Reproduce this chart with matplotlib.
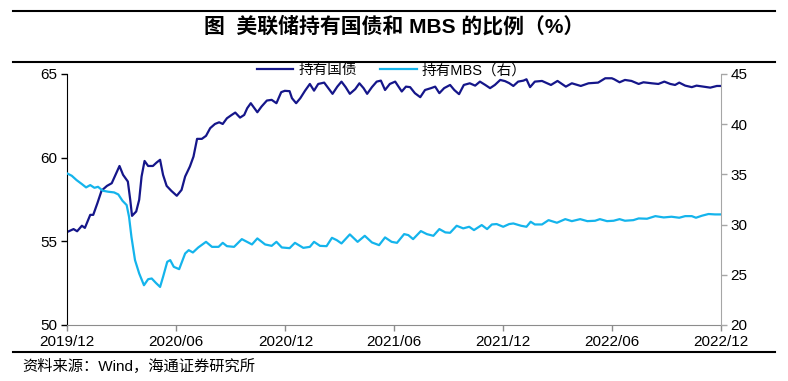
import matplotlib
matplotlib.use("Agg")
import matplotlib.pyplot as plt
import matplotlib.dates as mdates
from matplotlib.lines import Line2D
import pandas as pd

plt.rcParams['font.family'] = ['Liberation Sans', 'Noto Sans CJK SC', 'DejaVu Sans']

base_date = pd.Timestamp('2019-12-01')

# 持有国债 (left axis), days after 2019-12-01
tsy_days = [0, 11, 17, 25, 30, 39, 44, 51, 58, 67, 75, 80, 88, 94, 102, 106, 109, 116, 121, 125,
            130, 136, 144, 150, 156, 161, 167, 175, 184, 192, 198, 206, 212, 218, 226, 233, 240, 248,
            255, 261, 268, 276, 282, 290, 297, 302, 308, 312, 319, 326, 335, 343, 351, 359, 365, 373,
            377, 384, 391, 399, 407, 414, 421, 431, 438, 445, 453, 460, 467, 474, 483, 490, 497, 503,
            511, 519, 526, 533, 541, 550, 561, 568, 575, 583, 592, 600, 610, 617, 624, 632, 642, 649,
            657, 665, 675, 684, 692, 701, 709, 717, 726, 734, 741, 748, 756, 765, 770, 776, 784, 796,
            811, 822, 836, 846, 861, 874, 890, 902, 913, 917, 926, 935, 946, 958, 966, 980, 991, 1001,
            1011, 1019, 1026, 1036, 1047, 1055, 1066, 1078, 1089, 1096]
tsy_vals = [55.55, 55.73, 55.60, 55.93, 55.80, 56.58, 56.58, 57.28, 58.03, 58.31, 58.47, 58.87, 59.50,
            58.97, 58.57, 57.48, 56.52, 56.78, 57.48, 58.87, 59.80, 59.50, 59.50, 59.70, 59.87, 58.97,
            58.31, 58.01, 57.72, 58.07, 58.87, 59.47, 60.06, 61.12, 61.12, 61.30, 61.76, 62.01, 62.11,
            62.01, 62.35, 62.55, 62.69, 62.39, 62.55, 62.95, 63.25, 63.05, 62.71, 63.05, 63.41, 63.45,
            63.25, 63.91, 63.99, 63.97, 63.55, 63.25, 63.55, 64.00, 64.40, 64.00, 64.40, 64.48, 64.15,
            63.81, 64.24, 64.54, 64.21, 63.81, 64.09, 64.44, 64.15, 63.81, 64.21, 64.54, 64.60, 64.04,
            64.40, 64.54, 63.95, 64.24, 64.21, 63.85, 63.61, 64.04, 64.15, 64.24, 63.85, 64.15, 64.34,
            64.04, 63.79, 64.34, 64.44, 64.30, 64.54, 64.34, 64.15, 64.34, 64.64, 64.57, 64.45, 64.28,
            64.54, 64.60, 64.68, 64.21, 64.54, 64.58, 64.34, 64.58, 64.24, 64.44, 64.28, 64.44, 64.48,
            64.74, 64.74, 64.68, 64.50, 64.64, 64.58, 64.40, 64.50, 64.44, 64.40, 64.54, 64.40, 64.34,
            64.48, 64.30, 64.21, 64.30, 64.24, 64.18, 64.28, 64.28]

# 持有MBS (right axis)
mbs_days = [0, 8, 16, 25, 32, 39, 46, 52, 60, 69, 79, 86, 93, 100, 104, 108, 114, 121, 129, 136,
            142, 149, 156, 161, 168, 173, 179, 188, 198, 204, 211, 220, 233, 243, 254, 261, 268, 280,
            293, 310, 319, 332, 343, 351, 360, 373, 382, 396, 407, 414, 424, 435, 444, 452, 460, 474,
            487, 499, 511, 523, 533, 544, 553, 565, 572, 580, 593, 603, 614, 624, 634, 642, 653, 664,
            674, 682, 695, 704, 712, 720, 731, 741, 748, 761, 770, 777, 784, 796, 807, 821, 835, 846,
            860, 872, 885, 893, 905, 916, 926, 935, 949, 958, 972, 986, 1000, 1013, 1026, 1036, 1047,
            1054, 1064, 1075, 1086, 1096]
mbs_vals = [35.10, 34.86, 34.43, 34.03, 33.70, 33.93, 33.66, 33.76, 33.37, 33.27, 33.20, 33.00, 32.37,
            31.94, 30.77, 28.78, 26.46, 25.13, 23.96, 24.56, 24.63, 24.19, 23.79, 24.79, 26.29, 26.46,
            25.79, 25.56, 27.12, 27.45, 27.22, 27.72, 28.28, 27.78, 27.78, 28.18, 27.85, 27.78, 28.55,
            28.02, 28.62, 28.02, 27.88, 28.28, 27.72, 27.65, 28.18, 27.68, 27.78, 28.28, 27.88, 27.85,
            28.68, 28.45, 28.12, 29.02, 28.28, 28.88, 28.22, 27.95, 28.72, 28.28, 28.18, 29.05, 28.95,
            28.55, 29.35, 29.05, 28.88, 29.55, 29.22, 29.18, 29.88, 29.62, 29.78, 29.45, 29.95, 29.55,
            30.01, 30.05, 29.78, 30.05, 30.11, 29.88, 29.78, 30.28, 30.01, 30.01, 30.44, 30.18, 30.54,
            30.34, 30.54, 30.34, 30.38, 30.54, 30.34, 30.38, 30.54, 30.38, 30.44, 30.61, 30.58, 30.84,
            30.71, 30.78, 30.68, 30.84, 30.84, 30.68, 30.88, 31.05, 31.01, 31.01]

tick_dates = ['2019-12-01', '2020-06-01', '2020-12-01', '2021-06-01',
              '2021-12-01', '2022-06-01', '2022-12-01']

tsy_dates = base_date + pd.to_timedelta(tsy_days, unit='D')
mbs_dates = base_date + pd.to_timedelta(mbs_days, unit='D')

navy = '#15168a'
sky = '#14b4ec'

fig = plt.figure(figsize=(7.88, 3.81), dpi=100)
ax = fig.add_axes([0.085, 0.147, 0.83, 0.659])
ax2 = ax.twinx()

l1, = ax.plot(tsy_dates, tsy_vals, color=navy, lw=1.6, label='持有国债')
l2, = ax2.plot(mbs_dates, mbs_vals, color=sky, lw=1.6, label='持有MBS（右）')

ax.set_xlim(pd.Timestamp(tick_dates[0]), pd.Timestamp(tick_dates[-1]))
ax.set_ylim(50, 65)
ax.set_yticks([50, 55, 60, 65])
ax2.set_ylim(20, 45)
ax2.set_yticks([20, 25, 30, 35, 40, 45])
ax.set_xticks(pd.to_datetime(tick_dates))
ax.xaxis.set_major_formatter(mdates.DateFormatter('%Y/%m'))

for a in (ax, ax2):
    a.spines['top'].set_visible(False)
    a.tick_params(labelsize=11, length=4, width=1, pad=3)
ax.spines['left'].set_color('black')
ax.spines['bottom'].set_color('#8c8c8c')
ax.spines['right'].set_visible(False)
ax2.spines['left'].set_visible(False)
ax2.spines['bottom'].set_visible(False)
ax2.spines['right'].set_color('#a6a6a6')
ax.tick_params(axis='x', colors='#8c8c8c', labelcolor='black')
ax2.tick_params(axis='y', colors='#a6a6a6', labelcolor='black')

fig.legend(handles=[l1, l2], loc='center left', bbox_to_anchor=(0.326, 0.816),
           ncol=2, frameon=False, fontsize=10.5, handlelength=2.5, handletextpad=0.35,
           columnspacing=1.6, borderpad=0, borderaxespad=0)

# title with rules above and below
fig.add_artist(Line2D([0.017, 0.984], [0.971, 0.971], transform=fig.transFigure, color='black', lw=1.5))
fig.add_artist(Line2D([0.017, 0.984], [0.836, 0.836], transform=fig.transFigure, color='black', lw=1.5))
fig.add_artist(Line2D([0.017, 0.984], [0.075, 0.075], transform=fig.transFigure, color='black', lw=1.5))
fig.text(0.5, 0.93, '图  美联储持有国债和 MBS 的比例（%）', ha='center', va='center',
         fontsize=15, fontweight='bold')
fig.text(0.028, 0.039, '资料来源：Wind，海通证券研究所', ha='left', va='center', fontsize=11)

fig.savefig('out.png', dpi=100)
